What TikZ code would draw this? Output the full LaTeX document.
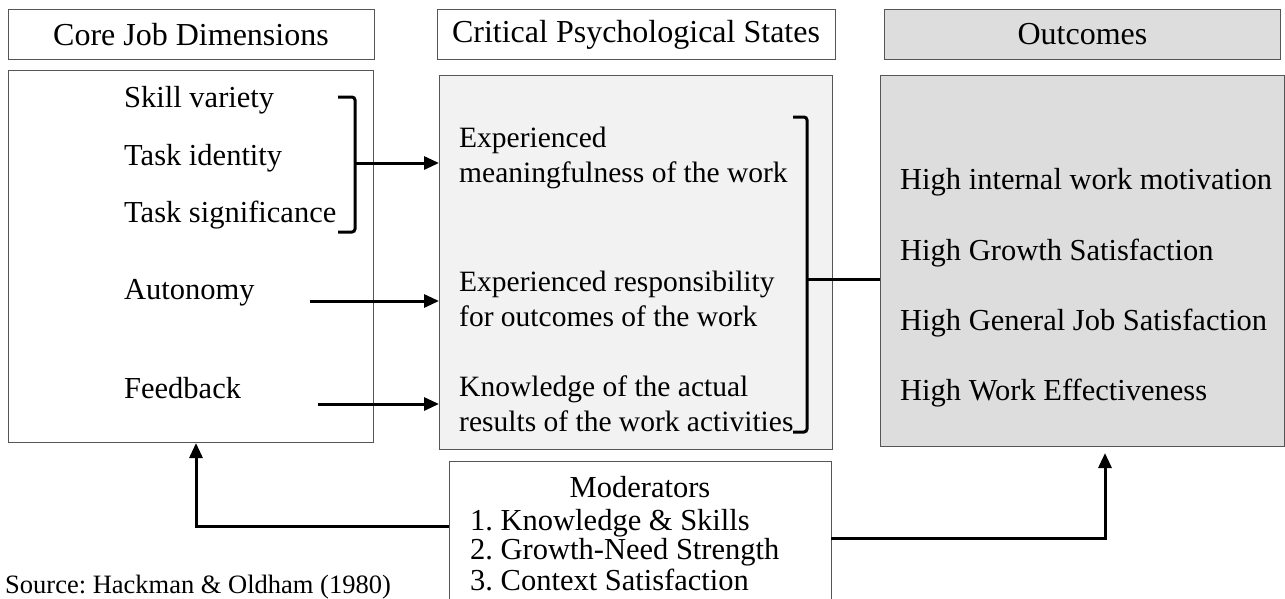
\documentclass[tikz,border=0pt]{standalone}
\usepackage{fontspec}
\setmainfont{Liberation Serif}
\usetikzlibrary{positioning,arrows.meta}
\frenchspacing

\definecolor{stategray}{HTML}{F2F2F2}
\definecolor{outgray}{HTML}{DDDDDD}
\definecolor{edgegray}{HTML}{555555}

\begin{document}
\begin{tikzpicture}[
  x=1pt, y=-1pt,
  panel/.style={rectangle, draw=edgegray, line width=1pt, anchor=north west,
                minimum width=#1, inner sep=0pt},
  head/.style={rectangle, draw=edgegray, line width=1pt, minimum height=50pt,
               inner sep=0pt, font=\fontsize{32}{35}\selectfont},
  item/.style={anchor=west, inner sep=0pt, align=left,
               font=\fontsize{30.5}{35}\selectfont},
  arr/.style={-{Triangle[length=15pt,width=13pt]}, line width=3pt},
  brace/.style={line width=3pt, rounded corners=3pt},
  node distance=12pt
]
\useasboundingbox (0,0) rectangle (1285,598);

% main panels
\node[panel=365pt, minimum height=372pt] (core) at (8,70) {};
\node[panel=393pt, minimum height=374pt, fill=stategray] (psy) at (439,75) {};
\node[panel=404pt, minimum height=371pt, fill=outgray] (out) at (880,75) {};

% column headings
\node[head, minimum width=366pt, above=10pt of core] (hcore) {Core Job Dimensions};
\node[head, minimum width=398pt, above=15pt of psy] (hpsy) {Critical Psychological States};
\node[head, minimum width=396pt, above=15pt of out, fill=outgray] (hout) {Outcomes};

% core job dimensions
\node[item] (skill) at (124,100) {Skill variety};
\node[item] (ident) at (124,158) {Task identity};
\node[item] (signif) at (124,215) {Task significance};
\node[item] (auto) at (124,293) {Autonomy};
\node[item] (feed) at (124,388) {Feedback};

% psychological states
\node[item, font=\fontsize{29.5}{35}\selectfont] (mean) at (459,158) {Experienced\\meaningfulness of the work};
\node[item, font=\fontsize{29.5}{35}\selectfont] (resp) at (459,299) {Experienced responsibility\\for outcomes of the work};
\node[item, font=\fontsize{29.5}{35}\selectfont] (know) at (459,404) {Knowledge of the actual\\results of the work activities};

% outcomes
\node[item] (motiv) at (900,182) {High internal work motivation};
\node[item] (growth) at (900,253) {High Growth Satisfaction};
\node[item] (general) at (900,323) {High General Job Satisfaction};
\node[item] (effect) at (900,393) {High Work Effectiveness};

% moderators
\node[panel=382pt, minimum height=160pt] (modbox) at (449,461) {};
\node[item, anchor=center] (modhead) at (640,487) {Moderators};
\node[item] (mod1) at (470,523) {1. Knowledge \& Skills};
\node[item] (mod2) at (470,552) {2. Growth-Need Strength};
\node[item] (mod3) at (470,580) {3. Context Satisfaction};

\node[item, anchor=base west, font=\fontsize{26.5}{30}\selectfont] (source) at (5,593) {Source: Hackman \& Oldham (1980)};

% brackets
\draw[brace] (338,97) -- (355,97) -- (355,232) -- (338,232);
\draw[brace] (793,117) -- (807,117) -- (807,432) -- (793,432);
\coordinate (tipone) at (355,163);
\coordinate (tiptwo) at (807,279);

% connectors
\coordinate (autgo) at (310,301);
\coordinate (feedgo) at (318,404);
\coordinate (lowleft) at (449,526);
\coordinate (lowright) at (831,538);
\coordinate (outfoot) at (1105,453);

\draw[arr] (tipone) -- (tipone -| psy.west);
\draw[arr] (autgo) -- (autgo -| psy.west);
\draw[arr] (feedgo) -- (feedgo -| psy.west);
\draw[brace] (tiptwo) -- (tiptwo -| out.west);
\draw[arr] (lowleft) -| ([xshift=5pt]core.south);
\draw[arr] (lowright) -| (outfoot);
\end{tikzpicture}
\end{document}
